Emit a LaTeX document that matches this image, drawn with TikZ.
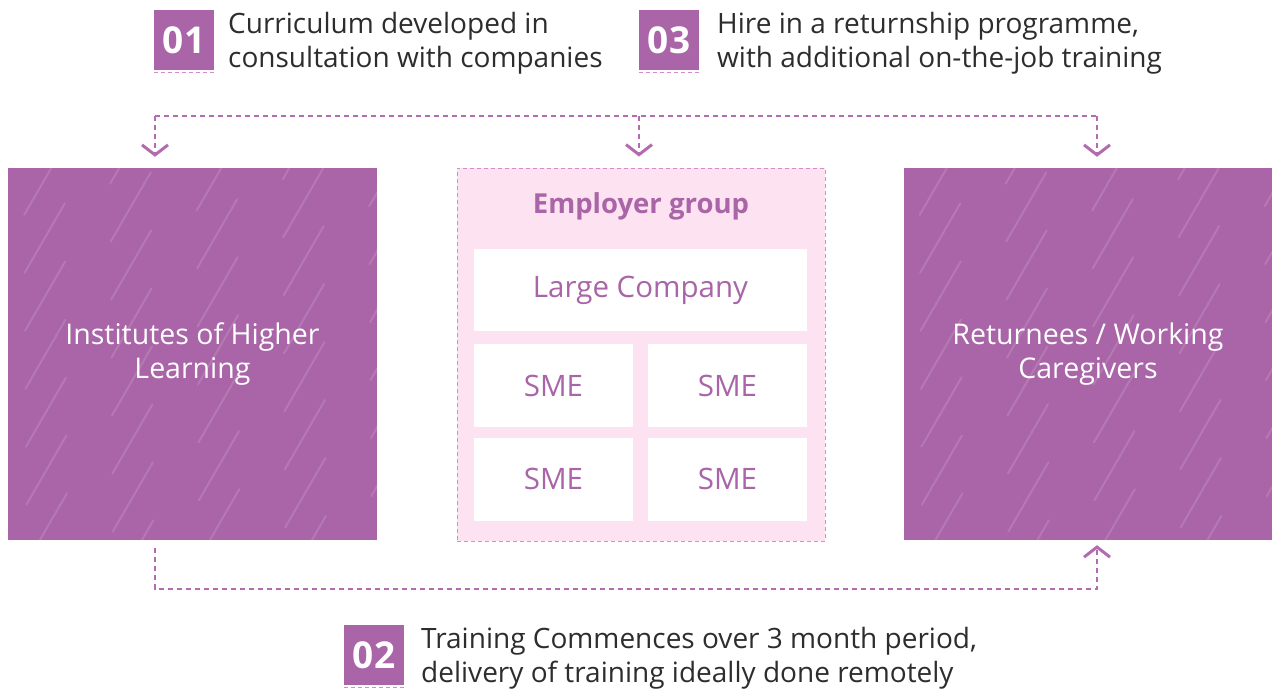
\documentclass[tikz,border=0pt]{standalone}
\usepackage{fontspec}
\setmainfont{Open Sans}
\usetikzlibrary{arrows.meta}
\definecolor{plum}{HTML}{A965A7}
\definecolor{blush}{HTML}{FDE3F1}
\definecolor{rose}{HTML}{D48CCB}
\definecolor{ink}{HTML}{2D2D2D}
\definecolor{wire}{HTML}{B26BAE}

\begin{document}
\begin{tikzpicture}[x=1pt,y=-1pt,
    big/.style={fill=plum,minimum width=369pt,minimum height=372pt,text=white,align=center,font=\fontsize{28.5}{34}\selectfont},
    cell/.style={fill=white,text=plum,inner sep=0pt,font=\fontsize{29.5}{30}\selectfont},
    badge/.style={fill=plum,text=white,minimum size=60pt,inner sep=0pt,font=\fontsize{37}{37}\selectfont\bfseries},
    note/.style={anchor=west,align=left,text=ink,inner sep=0pt,font=\fontsize{28}{34}\selectfont},
    link/.style={wire,line width=1.5pt,dash pattern=on 5pt off 4pt},
    tip/.style={-{Straight Barb[length=10pt,width=26pt,line width=3pt]}},
    hatch/.style={white,opacity=0.13,line width=2pt,line cap=round}]
  \useasboundingbox (0,0) rectangle (1272,689);
  % the three columns
  \node[big] (ihl) at (192.5,354) {Institutes of Higher\\Learning};
  \node[big] (ret) at (1088,354) {Returnees / Working\\Caregivers};
  \node[fill=blush,draw=rose,line width=1pt,dash pattern=on 4pt off 3pt,minimum width=368pt,minimum height=373pt] (emp) at (641,354.5) {};
  \node[text=plum,font=\fontsize{27.5}{28}\selectfont\bfseries] (grp) at (641,206) {Employer group};
  \node[cell,minimum width=333pt,minimum height=82pt] (lc) at (640.5,290) {Large Company};
  \foreach \p [count=\i from 1] in {(553.5,385.5),(727.5,385.5),(553.5,479),(727.5,479)}
    {\node[cell,minimum width=159pt,minimum height=83pt] (sme\i) at \p {SME};}
  % rain lines
  \foreach \b in {ihl,ret} {
    \begin{scope}
      \clip (\b.south west) rectangle (\b.north east);
      \foreach \i [evaluate=\i as \ph using {mod(\i*67,170)}] in {0,...,18}
        \draw[hatch,dash pattern=on 80pt off 90pt,dash phase=\ph pt] ([xshift=-240pt+\i*34pt]\b.south west) -- ++(330,-570);
    \end{scope}
  }
  % steps
  \foreach \n/\x/\y/\tx/\t in {01/184/40/228/{Curriculum developed in\\consultation with companies},
      03/669/40/717/{Hire in a returnship programme,\\with additional on-the-job training},
      02/374/655/421/{Training Commences over 3 month period,\\delivery of training ideally done remotely}} {
    \node[badge] (n\n) at (\x,\y) {\n};
    \draw[rose,line width=1pt,dash pattern=on 4pt off 3pt] ([yshift=-2.5pt]n\n.south west) -- ([yshift=-2.5pt]n\n.south east);
    \node[note] (lbl\n) at (\tx,\y+3) {\t};
  }
  % connectors
  \coordinate (t1) at (155,116);
  \coordinate (t2) at (639,116);
  \coordinate (t3) at (1097,116);
  \draw[link] (t1) -- (t3);
  \foreach \c/\n in {t1/ihl,t2/emp,t3/ret}
    \draw[link,tip,shorten >=11pt] (\c) -- (\c |- \n.north);
  \coordinate (b1) at (155,589);
  \coordinate (b2) at (1097,589);
  \draw[link,tip,shorten <=8pt,shorten >=5pt] (b1 |- ihl.south) -- (b1) -- (b2) -- (b2 |- ret.south);
\end{tikzpicture}
\end{document}
